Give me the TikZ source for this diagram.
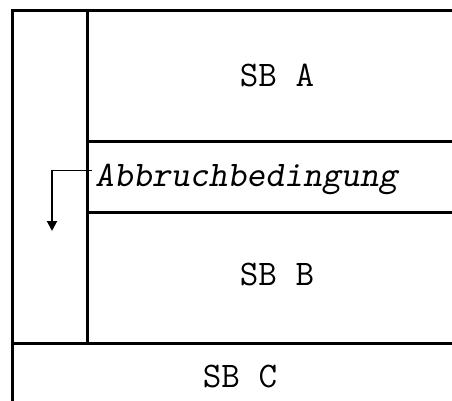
\documentclass[tikz,border=0pt]{standalone}
\usepackage{fontspec}
\usetikzlibrary{arrows.meta}
\begin{document}
\begin{tikzpicture}[x=1pt,y=-1pt,
  frame/.style={line width=3pt},
  lbl/.style={font=\ttfamily\fontsize{36}{40}\selectfont, inner sep=0pt, anchor=base},
  loopline/.style={line width=1pt},
  looparrow/.style={line width=2pt,-{Triangle[length=10pt,width=10pt]}}]
\useasboundingbox (0,0) rectangle (452,401);
% frame lines
\draw[frame] (452,11) -- (12,11) -- (12,401);
\draw[frame] (87,11) -- (87,343);
\draw[frame] (87,141) -- (452,141);
\draw[frame] (87,212) -- (452,212);
\draw[frame] (12,343) -- (452,343);
% texts
\node[lbl] (sba) at (277,87) {SB A};
\node[lbl, anchor=base west] (cond) at (95,186) {\slshape Abbruchbedingung};
\node[lbl] (sbb) at (277,285) {SB B};
\node[lbl] (sbc) at (240,387) {SB C};
% loop arrow
\coordinate (c0) at (92,170);
\coordinate (c1) at (52,170);
\coordinate (c2) at (52,231);
\draw[loopline] (c0) -- (c1);
\draw[looparrow] (c1) -- (c2);
\end{tikzpicture}
\end{document}
